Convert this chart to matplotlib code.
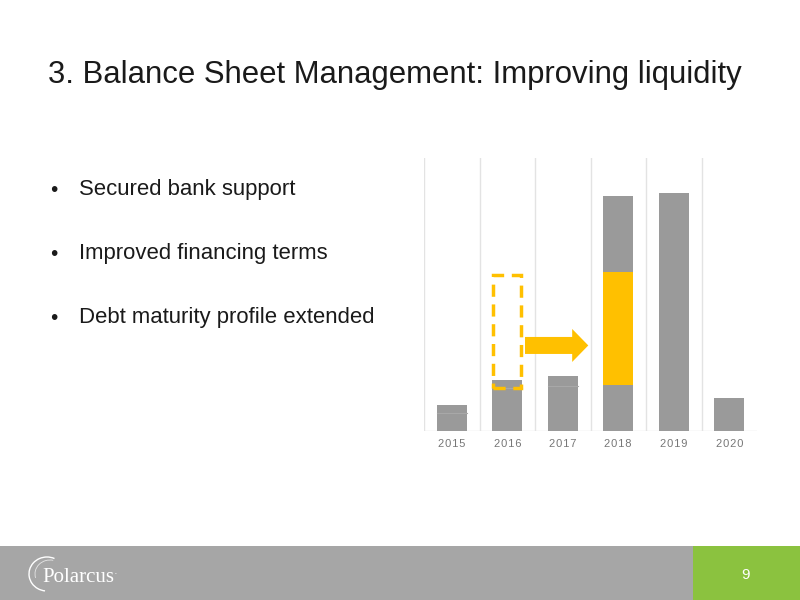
import matplotlib
matplotlib.use("Agg")
import matplotlib.pyplot as plt
from matplotlib.patches import Rectangle, FancyArrow, Arc

plt.rcParams['font.family'] = ['Liberation Sans', 'DejaVu Sans']

# chart data (heights)
years = ['2015', '2016', '2017', '2018', '2019', '2020']
gray_low = [18, 43, 45, 46, 238, 33]
gray_mid = [8, 8, 10, 0, 0, 0]
yellow = [0, 0, 0, 113, 0, 0]
gray_top = [0, 0, 0, 76, 0, 0]

# the 2016 amount that was moved out to 2018
moved_from = 1
moved_to = 3

title = "3. Balance Sheet Management: Improving liquidity"
bullets = ["Secured bank support", "Improved financing terms", "Debt maturity profile extended"]
page_no = "9"

GRAY = '#9a9a9a'
YELLOW = '#ffc000'
W, H = 800, 600

fig = plt.figure(figsize=(8, 6), dpi=100)
fig.patch.set_facecolor('white')

# title and bullets
fig.text(48 / W, 1 - 75 / H, title, fontsize=22.4, color='#1a1a1a', va='center', ha='left')
for i, b in enumerate(bullets):
    y = 1 - (190 + 64 * i) / H
    fig.text(50 / W, y, u"\u2022", fontsize=15, color='#1a1a1a', va='center')
    fig.text(79 / W, y, b, fontsize=15.9, color='#1a1a1a', va='center')

# footer
fig.patches.append(Rectangle((0, 0), 1, 54 / H, transform=fig.transFigure,
                             facecolor='#a6a6a6', edgecolor='none', zorder=0))
fig.patches.append(Rectangle((693 / W, 0), 1 - 693 / W, 54 / H, transform=fig.transFigure,
                             facecolor='#8bc23f', edgecolor='none', zorder=1))
fig.text(746 / W, 1 - 575 / H, page_no, fontsize=11, color='white', ha='center', va='center')
fig.text(42 / W, 1 - 578 / H, "Polarcus", fontsize=15, color='white', family='Liberation Serif',
         ha='left', va='center')
fig.text(114 / W, 1 - 574 / H, u"\u00b7", fontsize=8, color='white', ha='left', va='center')
fig.patches.append(Arc((47 / W, 1 - 574 / H), 36 / W, 34 / H, theta1=70, theta2=265,
                       transform=fig.transFigure, color='white', lw=1.0))
fig.patches.append(Arc((50 / W, 1 - 574 / H), 30 / W, 28 / H, theta1=80, theta2=200,
                       transform=fig.transFigure, color='#e6e6e6', lw=0.6))

# chart
ax = fig.add_axes([424 / W, (H - 431) / H, (757 - 424) / W, (431 - 158) / H])
x = list(range(len(years)))
bw = 0.54
ax.bar(x, gray_low, width=bw, color=GRAY, zorder=2)
ax.bar(x, gray_mid, width=bw, bottom=gray_low, color=GRAY, zorder=2)
for xi, lo, mid in zip(x, gray_low, gray_mid):
    if mid:
        ax.plot([xi - bw / 2, xi + bw / 2], [lo, lo], color='#a8a8a8', lw=0.8, zorder=3)
b3 = [l + m for l, m in zip(gray_low, gray_mid)]
ax.bar(x, yellow, width=bw, bottom=b3, color=YELLOW, zorder=2)
b4 = [b + y for b, y in zip(b3, yellow)]
ax.bar(x, gray_top, width=bw, bottom=b4, color=GRAY, zorder=2)

# dashed box showing where the moved amount used to sit
box_w = 0.5
box = Rectangle((moved_from - box_w / 2, gray_low[moved_from]), box_w, yellow[moved_to],
                fill=False, edgecolor=YELLOW, lw=2.5, linestyle=(0, (3.5, 2.2)), zorder=4)
ax.add_patch(box)

# arrow from box to 2018
a_start = moved_from + box_w / 2 + 0.07
a_end = moved_to - bw / 2 - 0.27
a_y = gray_low[moved_to] + yellow[moved_to] * 0.35
ax.add_patch(FancyArrow(a_start, a_y, a_end - a_start, 0, width=17, head_width=33,
                        head_length=0.29, length_includes_head=True,
                        color=YELLOW, lw=0, zorder=4))

for g in [i - 0.5 for i in x]:
    ax.axvline(g, color='#e3e3e3', lw=1, zorder=1)
ax.axhline(0, color='#e3e3e3', lw=1, zorder=1)

ax.set_xlim(-0.5, len(years) - 0.5)
ax.set_ylim(0, 273)
ax.set_xticks(x)
ax.set_xticklabels([u"\u200a".join(y) for y in years], fontsize=8, color='#777777')
ax.tick_params(axis='x', length=0, pad=6)
ax.set_yticks([])
for s in ax.spines.values():
    s.set_visible(False)

fig.savefig('out.png', dpi=100)
